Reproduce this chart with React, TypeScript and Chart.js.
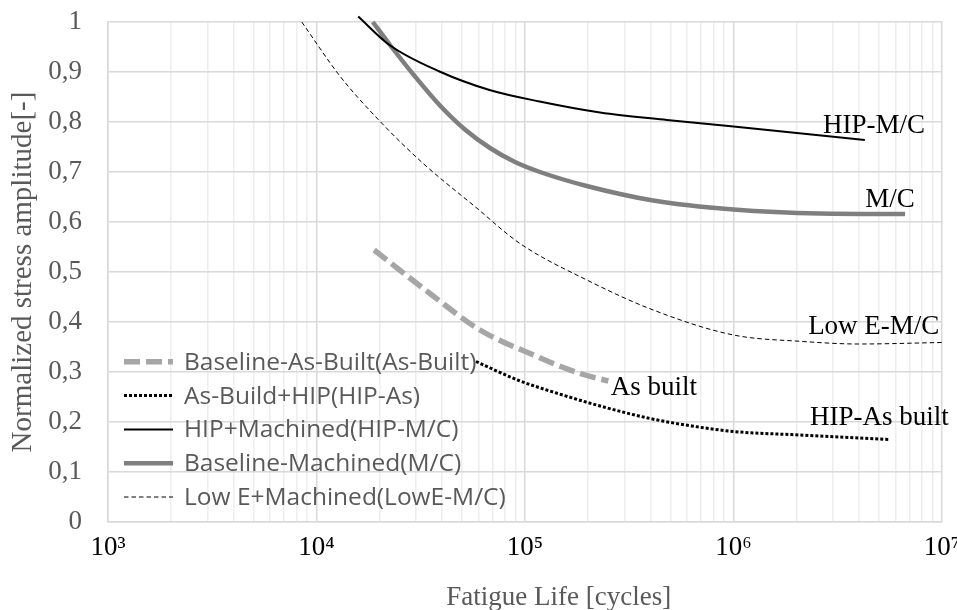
import React, { useEffect, useRef } from 'react';
import { Chart, registerables } from 'chart.js';

Chart.register(...registerables);

// ---- Data (cycles, normalized stress amplitude) ----
const asBuiltX = [18900, 35000, 60800, 105700, 183700, 251000];
const asBuiltY = [0.544, 0.457, 0.384, 0.337, 0.297, 0.282];

const hipAsX = [58200, 93300, 131800, 229100, 398100, 631000, 1000000, 2089000, 5623000];
const hipAsY = [0.321, 0.283, 0.262, 0.232, 0.207, 0.192, 0.181, 0.174, 0.165];

const hipMcX = [15850, 22390, 38900, 67600, 117500, 229100, 478600, 1000000, 4266000];
const hipMcY = [1.011, 0.954, 0.901, 0.864, 0.841, 0.819, 0.804, 0.791, 0.764];

const mcX = [18620, 22520, 29680, 39080, 51520, 67920, 89540, 118000, 197700, 412100, 1000000, 2600000, 6650000];
const mcY = [1.0, 0.954, 0.891, 0.833, 0.785, 0.748, 0.72, 0.7, 0.672, 0.643, 0.625, 0.617, 0.616];

const lowEX = [8500, 13000, 20200, 32500, 57500, 94600, 198000, 412000, 1000000, 2160000, 3980000, 10000000];
const lowEY = [1.0, 0.891, 0.801, 0.717, 0.631, 0.557, 0.484, 0.424, 0.374, 0.361, 0.356, 0.359];

const seriesLabels = [
  'Baseline-As-Built(As-Built)',
  'As-Build+HIP(HIP-As)',
  'HIP+Machined(HIP-M/C)',
  'Baseline-Machined(M/C)',
  'Low E+Machined(LowE-M/C)',
];

const xDecades = [1000, 10000, 100000, 1000000, 10000000];
const xTickLabels = ['10³', '10⁴', '10⁵', '10⁶', '10⁷'];

// curve end labels, in data coordinates (left edge, baseline)
const annText = ['HIP-M/C', 'M/C', 'Low E-M/C', 'As built', 'HIP-As built'];
const annX = [2690000, 4280000, 2280000, 258000, 2330000];
const annY = [0.778, 0.631, 0.377, 0.254, 0.194];

const toPoints = (xs: number[], ys: number[]) => xs.map((x, i) => ({ x, y: ys[i] }));

const xGridValues: number[] = [];
for (let d = 0; d < xDecades.length - 1; d++) {
  for (let m = 1; m < 10; m++) xGridValues.push(m * xDecades[d]);
}
xGridValues.push(xDecades[xDecades.length - 1]);

const overlayPlugin = {
  id: 'overlay',
  afterDatasetsDraw(chart: any) {
    const { ctx, chartArea, scales } = chart;
    ctx.save();
    // annotations
    ctx.font = '27px "Liberation Serif"';
    ctx.fillStyle = '#000';
    ctx.textAlign = 'left';
    ctx.textBaseline = 'alphabetic';
    annText.forEach((t, i) => {
      ctx.fillText(t, scales.x.getPixelForValue(annX[i]), scales.y.getPixelForValue(annY[i]));
    });
    // legend
    const n = chart.data.datasets.length;
    ctx.font = '24.5px "Open Sans"';
    ctx.textBaseline = 'middle';
    chart.data.datasets.forEach((ds: any, i: number) => {
      const y = chartArea.bottom - 25 - (n - 1 - i) * 33.8;
      const x0 = chartArea.left + 16;
      const x1 = chartArea.left + 65;
      ctx.save();
      ctx.strokeStyle = ds.borderColor;
      ctx.lineWidth = ds.borderWidth;
      ctx.setLineDash(ds.borderDash || []);
      ctx.beginPath();
      ctx.moveTo(x0, y);
      ctx.lineTo(x1, y);
      ctx.stroke();
      ctx.restore();
      ctx.fillStyle = '#595959';
      ctx.fillText(ds.label, chartArea.left + 76, y + 1);
    });
    ctx.restore();
  },
};

export default function App() {
  const ref = useRef<HTMLCanvasElement | null>(null);

  useEffect(() => {
    document.body.style.margin = '0';
    const canvas = ref.current;
    if (!canvas) return;
    const chart = new Chart(canvas, {
      type: 'line',
      data: {
        datasets: [
          {
            label: seriesLabels[0],
            data: toPoints(asBuiltX, asBuiltY),
            borderColor: '#a6a6a6',
            borderWidth: 5.5,
            borderDash: [16, 6],
          },
          {
            label: seriesLabels[1],
            data: toPoints(hipAsX, hipAsY),
            borderColor: '#000000',
            borderWidth: 3,
            borderDash: [3, 2],
          },
          {
            label: seriesLabels[2],
            data: toPoints(hipMcX, hipMcY),
            borderColor: '#000000',
            borderWidth: 2,
          },
          {
            label: seriesLabels[3],
            data: toPoints(mcX, mcY),
            borderColor: '#7f7f7f',
            borderWidth: 4.5,
          },
          {
            label: seriesLabels[4],
            data: toPoints(lowEX, lowEY),
            borderColor: '#000000',
            borderWidth: 1,
            borderDash: [4.5, 3],
          },
        ].map((d) => ({
          ...d,
          pointRadius: 0,
          pointHoverRadius: 0,
          fill: false,
          cubicInterpolationMode: 'monotone' as const,
          clip: false as const,
        })),
      },
      options: {
        animation: false,
        responsive: true,
        maintainAspectRatio: false,
        layout: { padding: { top: 22, right: 15, left: 0, bottom: 0 } },
        plugins: {
          legend: { display: false },
          tooltip: { enabled: false },
        },
        scales: {
          x: {
            type: 'logarithmic',
            min: 1000,
            max: 10000000,
            afterBuildTicks: (scale: any) => {
              scale.ticks = xGridValues.map((v) => ({ value: v, major: xDecades.includes(v) }));
            },
            afterFit: (scale: any) => {
              scale.height = 88;
              scale.paddingLeft = 0;
              scale.paddingRight = 0;
            },
            grid: {
              color: (ctx: any) => (ctx.tick && xDecades.includes(ctx.tick.value) ? '#d9d9d9' : '#eeeeee'),
              lineWidth: 1.5,
              drawTicks: false,
            },
            border: { color: '#d9d9d9', width: 1.5 },
            ticks: {
              autoSkip: false,
              maxRotation: 0,
              padding: 10,
              color: '#000000',
              font: { family: '"Liberation Serif"', size: 27 },
              callback: (value: any) => {
                const i = xDecades.indexOf(Number(value));
                return i >= 0 ? xTickLabels[i] : '';
              },
            },
            title: {
              display: true,
              text: '\u2003\u2003\u2002Fatigue Life [cycles]',
              color: '#595959',
              font: { family: '"Liberation Serif"', size: 27, lineHeight: 0.9 },
              padding: { top: 0, bottom: 0 },
            },
          },
          y: {
            type: 'linear',
            min: 0,
            max: 1,
            afterFit: (scale: any) => {
              scale.width = 108;
              scale.paddingTop = 0;
              scale.paddingBottom = 0;
            },
            grid: { color: '#d9d9d9', lineWidth: 1.5, drawTicks: false },
            border: { color: '#d9d9d9', width: 1.5 },
            ticks: {
              stepSize: 0.1,
              padding: 26,
              color: '#595959',
              font: { family: '"Liberation Serif"', size: 27 },
              callback: (value: any) => {
                const v = Math.round(Number(value) * 10) / 10;
                if (v === 0) return '0';
                if (v === 1) return '1';
                return v.toFixed(1).replace('.', ',');
              },
            },
            title: {
              display: true,
              text: 'Normalized stress amplitude[-]',
              color: '#595959',
              font: { family: '"Liberation Serif"', size: 29, lineHeight: 1 },
              padding: { top: 9, bottom: 0 },
            },
          },
        },
      },
      plugins: [overlayPlugin],
    });
    return () => chart.destroy();
  }, []);

  return (
    <div style={{ width: 957, height: 610, position: 'relative' }}>
      <canvas ref={ref} />
    </div>
  );
}
